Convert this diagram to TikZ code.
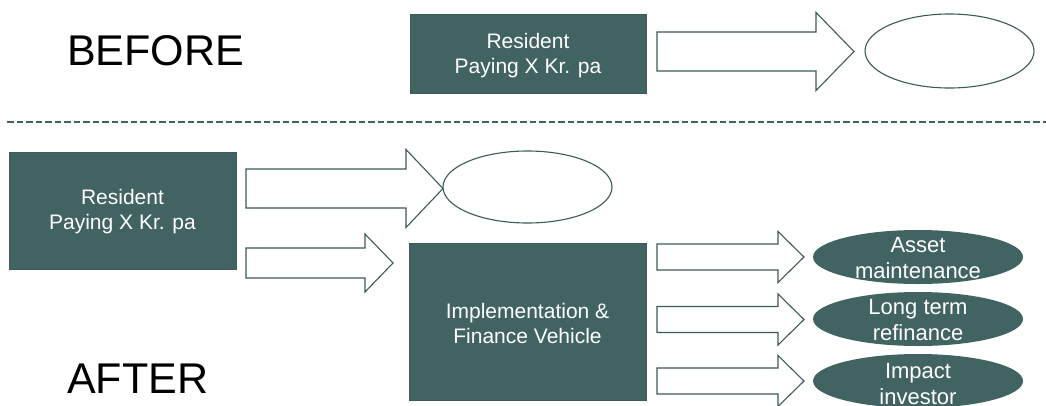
\documentclass[tikz,border=0pt]{standalone}
\usepackage{fontspec}
\setmainfont{Liberation Sans}
\usetikzlibrary{shapes.geometric}
\definecolor{tealfill}{RGB}{65,99,97}
\definecolor{tealedge}{RGB}{60,90,88}
\definecolor{dashcol}{RGB}{66,96,94}
\tikzset{
  darkbox/.style={draw=tealedge, line width=0.8pt, fill=tealfill, inner sep=0pt},
  boxtext/.style={text=white, align=center, inner sep=0pt, font=\fontsize{21}{24.5}\selectfont},
  ovaltext/.style={text=white, align=center, inner sep=0pt, font=\fontsize{22}{26}\selectfont},
  openoval/.style={ellipse, draw=tealedge, line width=1.1pt, fill=white, inner sep=0pt},
  darkoval/.style={ellipse, fill=tealfill, inner sep=0pt},
  blockarrow/.style={draw=tealedge, line width=1.1pt, fill=white, line join=miter},
  bigword/.style={anchor=base west, inner sep=0pt, font=\fontsize{43}{48}\selectfont, text=black},
  sepline/.style={draw=dashcol, line width=2.3pt, dash pattern=on 6.5pt off 3pt}
}
\newcommand\blockarr[6]{%
  \draw[blockarrow] ({#1},{#2-#5}) -- ({#3},{#2-#5}) -- ({#3},{#2-#6}) -- ({#4},{#2})
    -- ({#3},{#2+#6}) -- ({#3},{#2+#5}) -- ({#1},{#2+#5}) -- cycle;}
\begin{document}
\begin{tikzpicture}[x=1pt,y=-1pt]
\useasboundingbox (0,0) rectangle (1046,405);
\clip (0,0) rectangle (1046,405);
\fill[white] (0,0) rectangle (1046,405);

% BEFORE
\node[bigword] (before) at (67,65) {BEFORE};
\node[darkbox, minimum width=236pt, minimum height=79pt] (restop) at (528,53.5) {};
\node[boxtext, yshift=-2pt] (restopt) at (restop.center) {Resident\\Paying X Kr. pa};
\blockarr{657}{51.5}{816}{854}{19.5}{39}
\node[openoval, minimum width=169pt, minimum height=74pt] (ovtop) at (949.5,51) {};

% separator
\coordinate (sepL) at (7,122);
\coordinate (sepR) at (1046,122);
\draw[sepline] (sepL) -- (sepR);

% AFTER
\node[bigword] (after) at (67,393) {AFTER};
\node[darkbox, minimum width=227pt, minimum height=117pt] (resbot) at (122.5,210.5) {};
\node[boxtext, yshift=-1pt] (resbott) at (resbot.center) {Resident\\Paying X Kr. pa};
\blockarr{246}{188.5}{406}{443}{19.5}{39}
\blockarr{246}{263}{365}{393}{15}{29}
\node[openoval, minimum width=169pt, minimum height=72pt] (ovbot) at (527.5,187) {};
\node[darkbox, minimum width=237pt, minimum height=157pt] (vehicle) at (527.5,321.5) {};
\node[boxtext, yshift=-2pt] (vehiclet) at (vehicle.center) {Implementation \&\\Finance Vehicle};

\blockarr{657}{257}{778}{804}{13}{25.5}
\blockarr{657}{319.5}{778}{804}{13}{25.5}
\blockarr{657}{381}{778}{804}{13}{25.5}

\node[darkoval, minimum width=210pt, minimum height=54pt] (asset) at (918,257) {};
\node[darkoval, minimum width=210pt, minimum height=54pt] (refin) at (918,319) {};
\node[darkoval, minimum width=210pt, minimum height=54pt] (impact) at (918,381) {};
\node[ovaltext, yshift=-1pt] (assett) at (asset.center) {Asset\\maintenance};
\node[ovaltext, yshift=-1pt] (refint) at (refin.center) {Long term\\refinance};
\node[ovaltext, yshift=-3pt] (impactt) at (impact.center) {Impact\\investor};
\end{tikzpicture}
\end{document}
